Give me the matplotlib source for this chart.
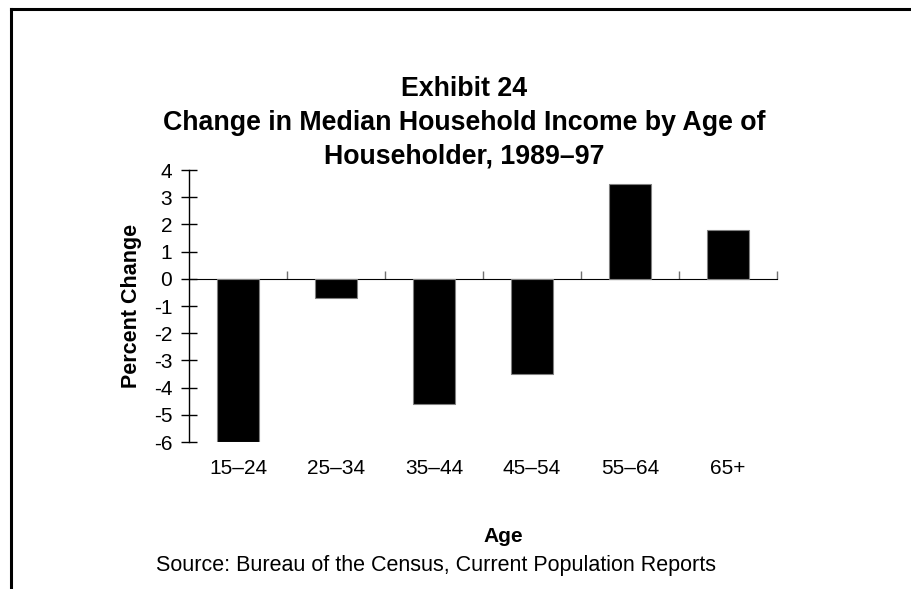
import numpy as np
import matplotlib
matplotlib.use("Agg")
import matplotlib.pyplot as plt
from matplotlib.lines import Line2D

plt.rcParams['font.family'] = ['Liberation Sans', 'DejaVu Sans']

ages = ['15–24', '25–34', '35–44', '45–54', '55–64', '65+']
pct_change = [-6.0, -0.7, -4.6, -3.5, 3.5, 1.8]
y_ticks = [4, 3, 2, 1, 0, -1, -2, -3, -4, -5, -6]
title_lines = ['Exhibit 24',
               'Change in Median Household Income by Age of',
               'Householder, 1989–97']

W, H = 911, 589
fig = plt.figure(figsize=(W / 100, H / 100), dpi=100)
ax = fig.add_axes([189 / W, 1 - 442 / H, 588 / W, 272 / H])

x = np.arange(len(ages))
ax.bar(x, pct_change, width=0.43, color='black', edgecolor='#808080', linewidth=0.8, zorder=3)

ax.set_xlim(-0.5, len(ages) - 0.5)
ax.set_ylim(-6, 4)

# y axis
ax.set_yticks(y_ticks)
ax.set_yticklabels([str(t) for t in y_ticks])
ax.tick_params(axis='y', direction='inout', length=12, width=1, colors='black',
               labelsize=15, pad=6)
for s in ['top', 'right', 'bottom']:
    ax.spines[s].set_visible(False)
ax.spines['left'].set_linewidth(1)

# category labels below plot area
ax.set_xticks(x)
ax.set_xticklabels(ages)
ax.tick_params(axis='x', length=0, labelsize=15, pad=12)

# zero line with category boundary ticks
zero_frac = (0 - (-6)) / (4 - (-6))
sec = ax.secondary_xaxis(zero_frac)
sec.set_xticks(np.arange(len(ages)) + 0.5)
sec.set_xticklabels([])
sec.tick_params(axis='x', direction='out', length=6, width=1, colors='#707070')
sec.spines['bottom'].set_color('#707070')
sec.spines['bottom'].set_linewidth(1.2)

ax.set_ylabel('Percent Change', fontsize=15.5, fontweight='bold')
ax.yaxis.set_label_coords(-47 / 588, 0.5)

# title, one line at a time
for i, line in enumerate(title_lines):
    fig.text(464 / W, 1 - (89 + 34 * i) / H, line,
             ha='center', va='center', fontsize=19.3, fontweight='bold')

fig.text(503 / W, 1 - 537 / H, 'Age', ha='center', va='center',
         fontsize=15, fontweight='bold')
fig.text(436 / W, 1 - 566 / H, 'Source: Bureau of the Census, Current Population Reports',
         ha='center', va='center', fontsize=15.5)

# frame lines at left and top
fig.add_artist(Line2D([11 / W, 11 / W], [0, 1 - 9 / H], color='black', linewidth=2.2))
fig.add_artist(Line2D([11 / W, 1], [1 - 9 / H, 1 - 9 / H], color='black', linewidth=2.2))

fig.savefig('out.png', dpi=100)
